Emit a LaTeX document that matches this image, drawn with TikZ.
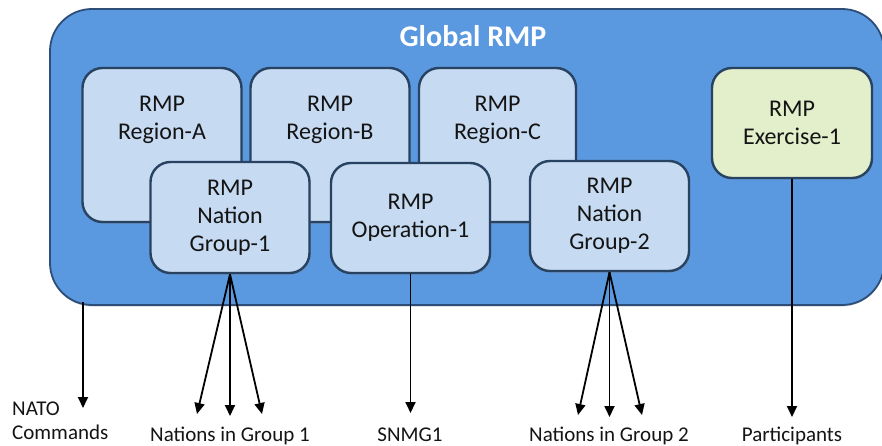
\documentclass[tikz,border=0pt]{standalone}
\usepackage{fontspec}
\setmainfont{Carlito}
\usetikzlibrary{arrows.meta,shadows}
\definecolor{bigfill}{RGB}{90,152,224}
\definecolor{bigedge}{RGB}{44,78,120}
\definecolor{smallfill}{RGB}{198,218,242}
\definecolor{smalledge}{RGB}{40,66,98}
\definecolor{exfill}{RGB}{227,239,202}
\definecolor{txt}{RGB}{20,20,20}
\begin{document}
\begin{tikzpicture}[x=1pt,y=-1pt,
  bigbox/.style={draw=bigedge, line width=1.8pt, fill=bigfill, rounded corners=42pt, inner sep=0pt,
    drop shadow={shadow xshift=0pt, shadow yshift=-1.5pt, opacity=0.35}},
  rmpbox/.style={draw=smalledge, line width=2.4pt, fill=smallfill, rounded corners=20pt, inner sep=0pt,
    minimum width=159pt, drop shadow={shadow xshift=1pt, shadow yshift=-1.5pt, opacity=0.45}},
  boxtext/.style={align=center, inner sep=0pt, font=\fontsize{24}{28}\selectfont, text=txt},
  lbl/.style={inner sep=0pt, font=\fontsize{21}{24}\selectfont, text=txt},
  arr/.style={line width=1.8pt, draw=black, -{Triangle[length=11pt,width=10pt]}}
]
\useasboundingbox (0,0) rectangle (882,446);

% big container
\node[bigbox, minimum width=834pt, minimum height=296pt] (global) at (467,157) {};
\node[font=\bfseries\fontsize{30}{34}\selectfont, text=white, inner sep=0pt] (title) at (473,36) {Global RMP};

% region boxes
\node[rmpbox, minimum height=154pt] (ra) at (162,145) {};
\node[boxtext] (rat) at (162,120) {RMP\\Region-A};
\node[rmpbox, minimum height=154pt] (rb) at (330,145) {};
\node[boxtext] (rbt) at (330,120) {RMP\\Region-B};
\node[rmpbox, minimum height=154pt, minimum width=157pt] (rc) at (497.5,145) {};
\node[boxtext] (rct) at (497.5,120) {RMP\\Region-C};

% front boxes
\node[rmpbox, minimum height=111pt, boxtext] (ng1) at (230,217.5) {RMP\\Nation\\Group-1};
\node[rmpbox, minimum height=110pt, boxtext] (op1) at (410.5,218) {RMP\\Operation-1};
\node[rmpbox, minimum height=110pt, boxtext] (ng2) at (609.5,216) {RMP\\Nation\\Group-2};
\node[rmpbox, minimum height=110pt, minimum width=160pt, fill=exfill, boxtext] (ex1) at (792,123) {RMP\\Exercise-1};

% labels
\node[lbl, align=left, anchor=west] (nato) at (12,421) {NATO\\Commands};
\node[lbl, anchor=base] (lg1) at (230,441) {Nations in Group 1};
\node[lbl, anchor=base] (lsn) at (410,441) {SNMG1};
\node[lbl, anchor=base] (lg2) at (609,441) {Nations in Group 2};
\node[lbl, anchor=base] (lpa) at (792,441) {Participants};

% connector end points
\coordinate (natoS) at (83,302);
\coordinate (natoE) at (83,408);
\coordinate (g1l) at (197,414);
\coordinate (g1m) at (230,416);
\coordinate (g1r) at (262,414);
\coordinate (snE) at (410.5,413);
\coordinate (g2l) at (578,415);
\coordinate (g2m) at (609.5,417);
\coordinate (g2r) at (642,415);
\coordinate (paE) at (792,417);

% connectors
\draw[arr] (natoS) -- (natoE);
\draw[arr] (ng1.south) -- (g1l);
\draw[arr] (ng1.south) -- (g1m);
\draw[arr] (ng1.south) -- (g1r);
\draw[arr] (op1.south) -- (snE);
\draw[arr] (ng2.south) -- (g2l);
\draw[arr] (ng2.south) -- (g2m);
\draw[arr] (ng2.south) -- (g2r);
\draw[arr] (ex1.south) -- (paE);
\end{tikzpicture}
\end{document}
